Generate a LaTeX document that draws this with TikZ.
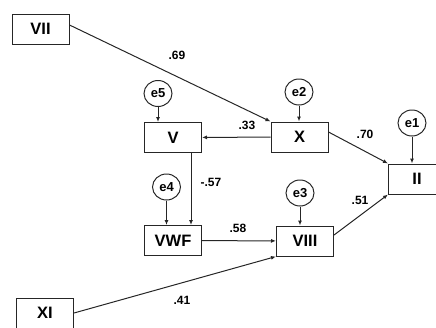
\documentclass[tikz,border=0pt]{standalone}
\usepackage{fontspec}
\setmainfont{Liberation Sans}
\usetikzlibrary{arrows.meta,shapes.geometric}

\begin{document}
\begin{tikzpicture}[x=1pt, y=-1pt,
  box/.style={draw=black!85, line width=1pt, minimum width=57pt, minimum height=30pt,
    inner sep=0pt, font=\fontsize{16.5}{16.5}\selectfont\bfseries},
  err/.style={draw=black!85, ellipse, line width=1pt, minimum width=28pt, minimum height=26pt,
    inner sep=0pt, font=\fontsize{13}{13}\selectfont\bfseries},
  arr/.style={-{Latex[length=5pt,width=4pt]}, draw=black!85, line width=1pt},
  coef/.style={font=\fontsize{12}{12}\selectfont\bfseries}]
  \useasboundingbox (0,0) rectangle (436,327);
  \clip (0,0) rectangle (436,327);
  % observed variables
  \node[box] (VII)  at (40.5,29)  {VII};
  \node[box] (V)    at (173,137.5) {V};
  \node[box] (X)    at (299.5,137) {X};
  \node[box] (II)   at (417,179)  {II};
  \node[box] (VWF)  at (173,240.5) {VWF};
  \node[box] (VIII) at (305,241)  {VIII};
  \node[box] (XI)   at (45,313)   {XI};
  % error terms
  \node[err] (e5) at (158,93.5) {e5};
  \node[err] (e2) at (299,92)   {e2};
  \node[err] (e1) at (412,123)  {e1};
  \node[err] (e4) at (166.5,187) {e4};
  \node[err] (e3) at (300,193)  {e3};
  \foreach \e/\v in {e5/V, e2/X, e1/II, e4/VWF, e3/VIII}
    \draw[arr] (\e) -- (\e |- \v.north);
  % paths
  \draw[arr] ([yshift=4pt]VII.east) -- (X.north west);
  \draw[arr] (X) -- (V);
  \draw[arr] ([yshift=5pt]X.east) -- (II.north west);
  \draw[arr] ([xshift=18pt]V.south) -- ([xshift=18pt]VWF.north);
  \draw[arr] (VWF) -- (VIII);
  \draw[arr] ([yshift=6pt]VIII.east) -- (II.south west);
  \draw[arr] (XI.east) -- (VIII.south west);
  % coefficients
  \node[coef] at (177,55)  {.69};
  \node[coef] at (247,125) {.33};
  \node[coef] at (365,134) {.70};
  \node[coef] at (211,182) {-.57};
  \node[coef] at (238,228) {.58};
  \node[coef] at (360,200) {.51};
  \node[coef] at (182,300) {.41};
\end{tikzpicture}
\end{document}
